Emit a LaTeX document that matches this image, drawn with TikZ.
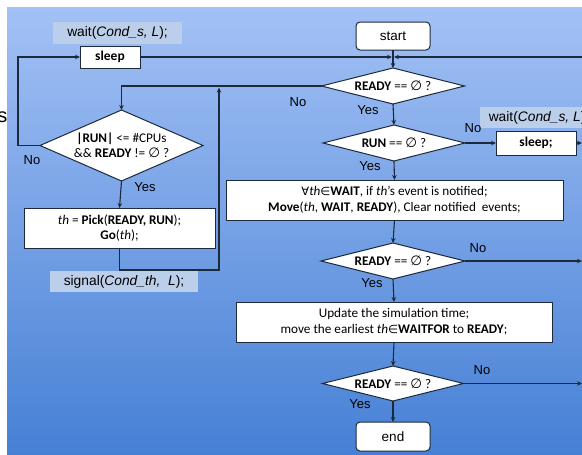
\documentclass[tikz,border=0pt]{standalone}
\usepackage{fontspec}
\setmainfont{Carlito}
\newfontfamily\arialf{Liberation Sans}
\newfontfamily\symf{DejaVu Sans}
\usetikzlibrary{shapes.geometric,arrows.meta}
\definecolor{bgtop}{HTML}{A3C1F5}
\definecolor{bgbot}{HTML}{4680D5}
\definecolor{lblfill}{HTML}{BCCFEA}
\definecolor{linec}{HTML}{1C2A3C}
\newcommand{\esym}{{\symf\fontsize{13.5}{12}\selectfont ∅}}
\newcommand{\fasym}{{\symf\fontsize{11.5}{12}\selectfont ∀}}
\newcommand{\insym}{{\symf\fontsize{11.5}{12}\selectfont ∈}}
\begin{document}
\begin{tikzpicture}[x=1pt,y=-1pt,
  every node/.style={inner sep=0pt, outer sep=0pt, text=black},
  box/.style={draw=linec, line width=1pt, fill=white, font=\fontsize{13.2}{15.5}\selectfont, align=center},
  rbox/.style={box, rounded corners=4pt, font=\arialf\fontsize{13.5}{15}\selectfont},
  dia/.style={diamond, aspect=4, draw=linec, line width=1pt, fill=white, font=\fontsize{13.2}{15}\selectfont, align=center},
  lbl/.style={fill=lblfill, font=\arialf\fontsize{13.8}{16}\selectfont},
  yn/.style={font=\arialf\fontsize{13}{15}\selectfont},
  arr/.style={draw=linec, line width=1.1pt, -{Stealth[length=5pt,width=4.5pt]}}
]
\useasboundingbox (0,0) rectangle (582,455);
\clip (0,0) rectangle (582,455);
\fill[white] (0,0) rectangle (582,455);
\shade[top color=bgtop, bottom color=bgbot] (7,7) rectangle (582,455);
\node[anchor=east, font=\arialf\fontsize{20}{20}\selectfont] (sfrag) at (7.5,117) {s};

% labels
\node[lbl, minimum width=129pt, minimum height=22pt] (w1) at (117.5,33) {wait(\textit{Cond\_s, L});};
\node[lbl, minimum width=148pt, minimum height=21pt] (sig) at (124,281.5) {signal(\textit{Cond\_th,~ L});};
\node[lbl, minimum width=112pt, minimum height=21pt, anchor=west] (w2) at (480,117.5) {\hspace{6pt}wait(\textit{Cond\_s, L});\hfill};

% nodes
\node[box, font=\bfseries\fontsize{13.5}{15}\selectfont, minimum width=60pt, minimum height=22pt] (sleep) at (110,57) {sleep};
\node[rbox, minimum width=74pt, minimum height=28pt] (start) at (393,36) {start};
\node[dia, minimum width=143pt, minimum height=36pt] (d1) at (393,86) {\textbf{READY} == \esym\ ?};
\node[dia, aspect=2.3, inner xsep=-8pt, minimum width=163pt, minimum height=71pt] (d0) at (121.5,145.5) {\textbf{|RUN|} <= \#CPUs\\ \&\& \textbf{READY} != \esym\ ?};
\node[box, minimum width=191pt, minimum height=40pt] (pick) at (119.5,228) {\textit{th} = \textbf{Pick}(\textbf{READY, RUN});\\ \textbf{Go}(\textit{th});};
\node[dia, minimum width=142pt, minimum height=36pt] (d2) at (394,143) {\textbf{RUN} == \esym\ ?};
\node[box, font=\bfseries\fontsize{13.5}{15}\selectfont, minimum width=80pt, minimum height=24pt] (sleep2) at (536,143) {sleep;};
\node[box, minimum width=337pt, minimum height=40pt] (wait) at (394.5,200) {\fasym\textit{th}\insym\textbf{WAIT}, if \textit{th}’s event is notified;\\ \textbf{Move}(\textit{th}, \textbf{WAIT}, \textbf{READY}), Clear notified~ events;};
\node[dia, minimum width=144pt, minimum height=36pt] (d3) at (393,261) {\textbf{READY} == \esym\ ?};
\node[box, minimum width=316pt, minimum height=40pt] (upd) at (394,322) {Update the simulation time;\\ move the earliest \textit{th}\insym\textbf{WAITFOR} to \textbf{READY};};
\node[dia, minimum width=141pt, minimum height=35pt] (d4) at (393,383.5) {\textbf{READY} == \esym\ ?};
\node[rbox, minimum width=74pt, minimum height=29pt] (end) at (393,436.5) {end};

% coordinates
\coordinate (r1) at (582,57);
\coordinate (j1) at (219,86);
\coordinate (c1) at (219,270);
\coordinate (r2) at (582,143);
\coordinate (r3) at (582,261);
\coordinate (r4) at (582,383.5);

% connectors
\draw[arr] (start.south) -- (d1.north);
\draw[arr, shorten >=1pt] (sleep.east) -- (sleep.east -| start.south);
\draw[arr, shorten >=1pt] (r1) -- (r1 -| start.south);
\draw[arr] (d1.west) -| (d0.north);
\draw[arr] (d0.west) -- ++(-22,0) |- (sleep.west);
\draw[arr] (d0.south) -- (pick.north);
\draw[arr, shorten >=1.5pt] (pick.south) |- (c1) -- (j1);
\draw[arr] (d1.south) -- (d2.north);
\draw[arr] (d2.east) -- (sleep2.west);
\draw[arr] (sleep2.east) -- (r2);
\draw[arr] (d2.south) -- (wait.north);
\draw[arr] (wait.south) -- (d3.north);
\draw[arr] (d3.east) -- (r3);
\draw[arr] (d3.south) -- (upd.north);
\draw[arr] (upd.south) -- (d4.north);
\draw[arr] (d4.east) -- (r4);
\draw[arr] (d4.south) -- (end.north);

% Yes / No labels
\node[yn] (n1) at (298,102) {No};
\node[yn] (n0) at (32,160) {No};
\node[yn] (y0) at (145,187) {Yes};
\node[yn] (y1) at (368,110) {Yes};
\node[yn] (n2) at (473,128) {No};
\node[yn] (y2) at (370,166) {Yes};
\node[yn] (n3) at (478,248) {No};
\node[yn] (y3) at (372,283) {Yes};
\node[yn] (n4) at (482,370) {No};
\node[yn] (y4) at (360,404) {Yes};
\end{tikzpicture}
\end{document}
